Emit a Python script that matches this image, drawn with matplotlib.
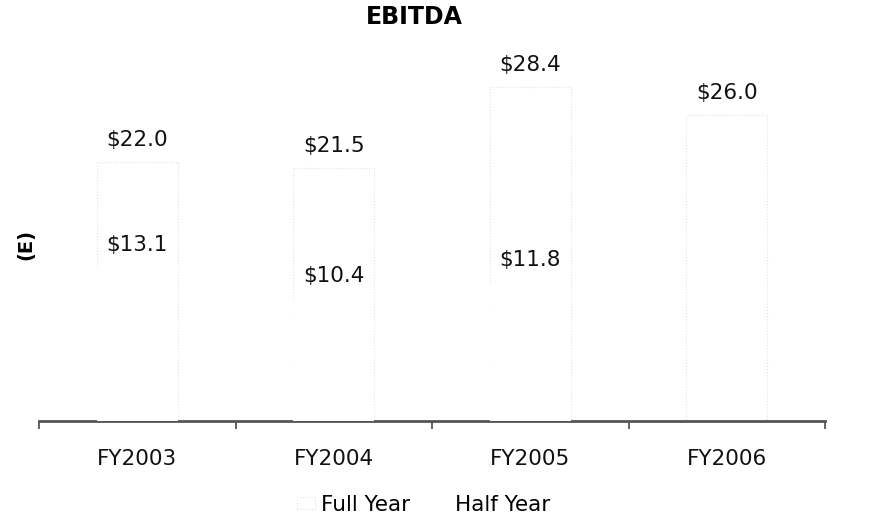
import matplotlib
matplotlib.use("Agg")
import matplotlib.pyplot as plt
import numpy as np

# EBITDA ($ millions)
categories = ["FY2003", "FY2004", "FY2005", "FY2006"]
full_year = [22.0, 21.5, 28.4, 26.0]
half_year = [13.1, 10.4, 11.8, None]
series_names = ["Full Year", "Half Year"]

W, H = 893, 522
fig = plt.figure(figsize=(W / 100, H / 100), dpi=100)
fig.patch.set_facecolor("white")

ax = fig.add_axes([39 / W, 101 / H, (825 - 39) / W, (421 - 40) / H])
x = np.arange(len(categories))
bar_w = 0.41

fy_bars = ax.bar(x, full_year, width=bar_w, color="white", edgecolor="#e2e2e2",
                 linestyle=":", linewidth=0.8, label=series_names[0], zorder=2)
hy_vals = [v if v is not None else 0 for v in half_year]
hy_bars = ax.bar(x, hy_vals, width=bar_w, color="white", edgecolor="none",
                 label=series_names[1], zorder=3)

label_font = 15.5
for xi, v in zip(x, full_year):
    ax.annotate(f"${v:.1f}", (xi, v), xytext=(0, 16), textcoords="offset points",
                ha="center", va="center", fontsize=label_font, color="#111111")
for xi, v in zip(x, half_year):
    if v is None:
        continue
    ax.annotate(f"${v:.1f}", (xi, v), xytext=(0, 16), textcoords="offset points",
                ha="center", va="center", fontsize=label_font, color="#111111", zorder=5)

ax.set_xlim(-0.5, len(categories) - 0.5)
ax.set_ylim(0, 32.4)

# boundary ticks as major, category names on minor ticks
ax.set_xticks(np.arange(len(categories) + 1) - 0.5)
ax.set_xticklabels([])
ax.set_xticks(x, minor=True)
ax.set_xticklabels(categories, minor=True, fontsize=15.5, color="#111111")
ax.tick_params(axis="x", which="major", direction="out", length=6, width=1.3,
               color="#555555")
ax.tick_params(axis="x", which="minor", length=0, pad=20)
ax.set_yticks([])
for side in ["top", "right", "left"]:
    ax.spines[side].set_visible(False)
ax.spines["bottom"].set_color("#555555")
ax.spines["bottom"].set_linewidth(2)
ax.set_facecolor("white")

fig.text(414 / W, 1 - 17 / H, "EBITDA", ha="center", va="center",
         fontsize=17, fontweight="bold", color="black")
fig.text(26 / W, 1 - 245 / H, "(E)", ha="center", va="center", rotation=90,
         fontsize=14, fontweight="bold", color="black")

fig.legend(handles=[fy_bars, hy_bars], labels=series_names, loc="center",
           bbox_to_anchor=(424 / W, 1 - 505 / H), ncol=2, frameon=False,
           fontsize=15.5, handlelength=0.8, handleheight=0.5, handletextpad=0.3,
           columnspacing=1.0)

fig.savefig("out.png", dpi=100, facecolor="white")
plt.close(fig)
